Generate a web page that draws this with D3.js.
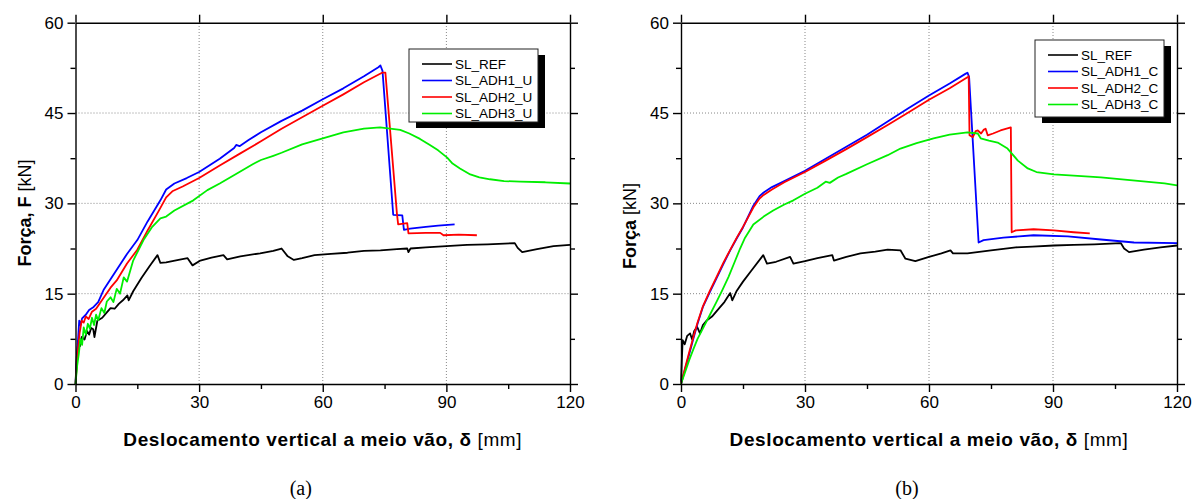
<!DOCTYPE html>
<html>
<head>
<meta charset="utf-8">
<script src="https://cdn.jsdelivr.net/npm/d3@7"></script>
<style>
    body { margin: 0; background: #fff; }
    svg { display: block; }
    .tick text { font-family: "Liberation Sans", Arial, sans-serif; font-size: 17px; }
    .label { font-family: "Liberation Sans", Arial, sans-serif; }
</style>
</head>
<body>
<svg id="chart" width="1196" height="499" viewBox="0 0 1196 499"></svg>
<script>
// ---- data: [deslocamento (mm), força (kN)] ----
const ref_U = [[0,0],[0.3,4.5],[0.7,7.2],[1.1,6.3],[1.5,7.8],[2.2,7.4],[2.8,8.8],[3.3,8.2],[3.8,9.3],[4.3,9.1],[4.6,7.8],[5.3,10.5],[6.5,11.0],[7.5,11.8],[8.5,12.6],[9.5,12.5],[10.5,13.3],[11.5,13.9],[12.6,14.7],[12.9,13.9],[14,15.4],[16,17.6],[18,19.6],[19.9,21.4],[20.6,20.1],[22,20.2],[25,20.6],[27.2,20.9],[28.4,19.7],[30.3,20.5],[33,21.0],[35.9,21.4],[36.8,20.7],[40,21.2],[44.8,21.7],[48,22.1],[50,22.5],[51.5,21.2],[53,20.6],[55,20.9],[58,21.4],[62,21.6],[66,21.8],[70,22.1],[74,22.2],[78,22.4],[80.5,22.5],[80.8,21.9],[81.3,22.5],[85,22.7],[90,22.9],[95,23.1],[100,23.2],[106.6,23.4],[107.3,22.6],[108.4,21.9],[112,22.4],[116,22.9],[120,23.1]];
const adh1_U = [[0,0],[0.5,6],[0.9,10.5],[1.2,9.8],[1.6,10.9],[2.5,11.5],[3.3,12.3],[4.4,12.8],[5.5,13.6],[6.8,15.6],[8.5,17.4],[10.4,19.4],[12.5,21.6],[15,23.9],[17.5,27],[20.6,30.5],[22,32.3],[24,33.3],[27,34.2],[30,35.2],[35,37.4],[38.5,39.2],[39,39.7],[39.8,39.5],[42,40.5],[45,41.8],[50,43.7],[55,45.4],[60,47.3],[65,49.1],[70,51.1],[73.5,52.6],[74,52.9],[74.5,52.0],[77.1,28.1],[79.3,28.0],[79.7,25.6],[81.2,25.8],[85,26.1],[88,26.3],[92,26.5]];
const adh2_U = [[0,0],[0.5,5],[1,8.5],[1.5,10.5],[2,10.2],[2.5,11.2],[3.2,10.8],[4,12],[5,12.5],[6,13.5],[7,14.5],[8.5,16],[10,17.2],[12.5,20],[15,22.3],[17.5,25.5],[20,28.5],[22,31],[23.5,32],[26,32.8],[30,34.2],[35,36.3],[40,38.3],[45,40.3],[50,42.4],[55,44.3],[60,46.2],[65,48.1],[70,50.1],[74.4,51.7],[75.2,51.7],[78,28.3],[78.3,26.5],[80.5,26.7],[80.8,25.0],[85,25.1],[88.5,25.1],[89.3,24.7],[93,24.8],[97.4,24.7]];
const adh3_U = [[0,0],[0.4,3],[0.8,5],[1.2,7.5],[1.6,6.5],[2,9.4],[2.5,8.2],[3,10],[3.5,9.2],[4,11],[4.5,9.8],[5,11.5],[5.5,10.6],[6.3,12.6],[7,11.8],[7.6,13.7],[8.5,14.4],[9.2,13.6],[10,15.8],[10.8,15],[11.7,17.7],[12.5,17],[14,20.5],[16.5,23.9],[18.5,26],[20.6,27.5],[22,27.8],[24,28.8],[28.6,30.5],[32,32.2],[35,33.3],[40,35.3],[43,36.5],[45,37.2],[48,37.9],[50,38.4],[55,39.8],[60,40.8],[65,41.8],[70,42.4],[73.9,42.6],[78.8,42.2],[81,41.6],[83.6,40.7],[86,39.7],[88,38.8],[90.2,37.6],[91.5,36.6],[93.3,35.8],[95.8,34.8],[98,34.3],[100.6,34.0],[104,33.7],[107.9,33.6],[114,33.5],[120,33.3]];

const ref_C = [[0,0],[0.2,4],[0.4,7.3],[0.9,6.6],[1.5,8],[2.2,8.4],[2.7,7.4],[3.2,8.8],[3.9,9.5],[4.6,8.4],[5.3,9.8],[6.3,10.6],[7.5,11.2],[9.5,12.8],[10.5,13.6],[11.9,15.1],[12.4,13.9],[13.5,15.5],[15,17],[17,18.8],[19.9,21.4],[20.8,20.0],[23,20.3],[26.4,21.1],[27.2,20.0],[30,20.4],[33,20.9],[36.6,21.4],[37,20.5],[40,21.1],[43.4,21.7],[47,22.0],[50,22.3],[53.1,22.2],[54.3,20.8],[56.7,20.4],[60,21.1],[63,21.7],[65.2,22.2],[65.8,21.7],[69.3,21.7],[75,22.2],[81,22.7],[85,22.8],[90.2,23.0],[95,23.1],[100,23.2],[106.4,23.4],[107.2,22.5],[108.4,21.9],[112,22.3],[116,22.7],[120,23.0]];
const adh1_C = [[0,0],[1,2.5],[2,5],[2.9,7.3],[4,10],[5.3,12.8],[7,15.3],[8.7,17.7],[10.3,20],[11.9,22.2],[13.5,24.2],[15,26],[17.5,29.6],[19,31.2],[20,31.8],[22,32.7],[25,33.7],[30,35.4],[35,37.4],[40,39.4],[45,41.4],[50,43.6],[55,45.8],[60,47.9],[65,49.9],[68.8,51.5],[69.3,51.7],[69.7,51.0],[72,23.5],[73.2,23.9],[78,24.3],[85.3,24.7],[93.6,24.5],[101.6,24.0],[109.6,23.5],[120,23.4]];
const adh2_C = [[0,0],[1,2.7],[2,5.3],[3,7.8],[4,10.2],[5.3,12.9],[7,15.5],[8.7,17.9],[10.3,20.2],[12,22.4],[13.5,24.3],[15,26.1],[17.5,29.3],[19,30.8],[20,31.4],[22,32.3],[25,33.5],[30,35.2],[35,37.1],[40,39.0],[45,41.0],[50,43.0],[55,45.1],[60,47.2],[65,49.1],[69.4,51.0],[69.6,51.1],[69.8,41.3],[70.6,41.0],[71.3,42.0],[71.8,42.1],[72.6,41.6],[73.2,42.2],[73.7,42.4],[74.2,41.3],[75.5,41.6],[77.3,42.1],[79.8,42.6],[80,25.2],[81,25.5],[85.3,25.7],[90.2,25.5],[95,25.2],[98.9,25.0]];
const adh3_C = [[0,0],[1,2],[2,4],[3,5.8],[4,7.5],[5.5,9.5],[7,11.5],[8.5,13.5],[10,15.6],[11.5,17.8],[13,20.3],[14.3,22.5],[15.5,24.3],[17.5,26.5],[20,27.8],[22.3,28.8],[25,29.8],[27.2,30.5],[30,31.6],[33,32.6],[35,33.6],[36,33.4],[38,34.3],[40,34.9],[45,36.5],[50,38.0],[53.1,39.1],[57,40.0],[61.1,40.8],[65,41.4],[69.3,41.8],[71.8,41.6],[72.5,40.8],[74.5,40.4],[76.6,40.1],[79,39.1],[81.5,37.1],[83.9,35.8],[86,35.2],[90.2,34.8],[95,34.6],[101.6,34.3],[108,33.9],[114.4,33.5],[117,33.3],[120,33.0]];

const seriesColors = ["#000000", "#0000ff", "#ff0000", "#00ee00"];
const namesU = ["SL_REF", "SL_ADH1_U", "SL_ADH2_U", "SL_ADH3_U"];
const namesC = ["SL_REF", "SL_ADH1_C", "SL_ADH2_C", "SL_ADH3_C"];
const xTicks = [0, 30, 60, 90, 120];
const yTicks = [0, 15, 30, 45, 60];
const xMinor = [15, 45, 75, 105];
const yMinor = [7.5, 22.5, 37.5, 52.5];

const svg = d3.select("#chart");
svg.append("rect").attr("width", 1196).attr("height", 499).attr("fill", "#fff");

function drawPanel(p) {
    const x = d3.scaleLinear().domain([0, 120]).range([p.left, p.right]);
    const y = d3.scaleLinear().domain([0, 60]).range([384, 22.7]);
    const g = svg.append("g");

    // grid
    g.selectAll(".vgrid").data([30, 60, 90]).enter().append("line")
        .attr("x1", d => x(d)).attr("x2", d => x(d))
        .attr("y1", y(0)).attr("y2", y(60))
        .attr("stroke", "#888").attr("stroke-dasharray", "1,2");
    g.selectAll(".hgrid").data([15, 30, 45]).enter().append("line")
        .attr("y1", d => y(d)).attr("y2", d => y(d))
        .attr("x1", x(0)).attr("x2", x(120))
        .attr("stroke", "#888").attr("stroke-dasharray", "1,2");

    // curves
    const line = d3.line().x(d => x(d[0])).y(d => y(d[1]));
    p.series.forEach((s, i) => {
        g.append("path").datum(s)
            .attr("d", line)
            .attr("fill", "none")
            .attr("stroke", seriesColors[i])
            .attr("stroke-width", 1.8)
            .attr("stroke-linejoin", "round");
    });

    // axes: major + minor ticks outward on all sides
    const axes = [
        { ax: d3.axisBottom(x), tr: "translate(0," + y(0) + ")", vals: xTicks, minor: xMinor, lab: true },
        { ax: d3.axisLeft(y), tr: "translate(" + x(0) + ",0)", vals: yTicks, minor: yMinor, lab: true },
        { ax: d3.axisTop(x), tr: "translate(0," + y(60) + ")", vals: xTicks, minor: [], lab: false },
        { ax: d3.axisRight(y), tr: "translate(" + x(120) + ",0)", vals: yTicks, minor: yMinor, lab: false }
    ];
    axes.forEach(a => {
        const ga = g.append("g").attr("transform", a.tr)
            .call(a.ax.tickValues(a.vals).tickSizeInner(8).tickSizeOuter(0).tickPadding(4)
                .tickFormat(a.lab ? d3.format("d") : ""));
        ga.selectAll("path, line").attr("stroke", "#000").attr("stroke-width", 1.4);
        ga.selectAll("text").attr("fill", "#000");
        ga.attr("font-family", null).attr("font-size", null);
        const gm = g.append("g").attr("transform", a.tr)
            .call(a.ax.tickValues(a.minor).tickSizeInner(5).tickSizeOuter(0).tickFormat(""));
        gm.select(".domain").remove();
        gm.selectAll("line").attr("stroke", "#000").attr("stroke-width", 1.4);
    });

    // axis titles
    const xt = svg.append("text").classed("label", true)
        .attr("x", (p.left + p.right) / 2).attr("y", 446)
        .attr("text-anchor", "middle").style("font-size", "19px")
        .style("letter-spacing", "0.6px");
    xt.append("tspan").attr("font-weight", "bold").text("Deslocamento vertical a meio vão, δ");
    xt.append("tspan").text(" [mm]");

    const yt = svg.append("text").classed("label", true)
        .attr("transform", "translate(" + p.ytx + "," + p.yty + ") rotate(-90)")
        .attr("text-anchor", "middle").style("font-size", "18px");
    yt.append("tspan").attr("font-weight", "bold").text(p.yBold);
    yt.append("tspan").text(" [kN]");

    svg.append("text")
        .attr("x", (p.left + p.right) / 2 - 22).attr("y", 495)
        .attr("text-anchor", "middle")
        .style("font-family", "'Liberation Serif', 'Times New Roman', serif")
        .style("font-size", "20px")
        .text(p.caption);

    // legend
    const lg = svg.append("g");
    lg.append("rect").attr("x", p.lx + 7).attr("y", p.ly + 6).attr("width", 129).attr("height", p.lh).attr("fill", "#000");
    lg.append("rect").attr("x", p.lx).attr("y", p.ly).attr("width", 129).attr("height", p.lh)
        .attr("fill", "#fff").attr("stroke", "#222").attr("stroke-width", 1);
    p.names.forEach((n, i) => {
        const cy = p.ly + 15 + i * 16.5;
        lg.append("line").attr("x1", p.lx + 13).attr("x2", p.lx + 43)
            .attr("y1", cy).attr("y2", cy)
            .attr("stroke", seriesColors[i]).attr("stroke-width", 1.6);
        lg.append("text").classed("label", true)
            .attr("x", p.lx + 46).attr("y", cy + 4.7)
            .style("font-size", "13.5px").text(n);
    });
}

drawPanel({ left: 75.5, right: 570, series: [ref_U, adh1_U, adh2_U, adh3_U], names: namesU,
    yBold: "Força, F", ytx: 31, yty: 213, caption: "(a)", lx: 409, ly: 49, lh: 73 });
drawPanel({ left: 681, right: 1177, series: [ref_C, adh1_C, adh2_C, adh3_C], names: namesC,
    yBold: "Força", ytx: 636, yty: 226, caption: "(b)", lx: 1035, ly: 40, lh: 77 });
</script>
</body>
</html>
